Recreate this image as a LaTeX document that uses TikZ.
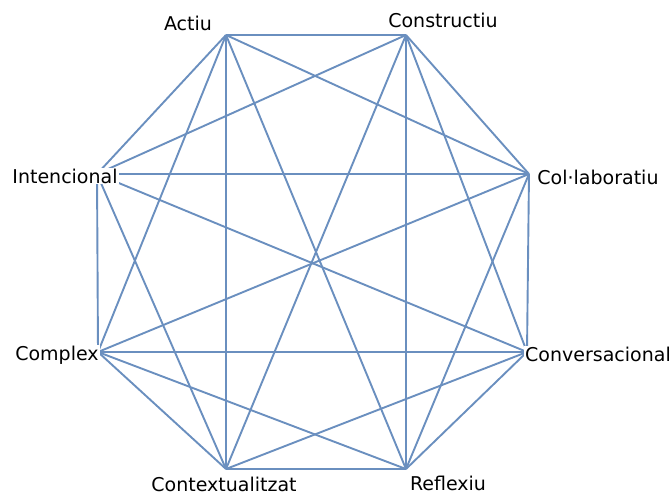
\documentclass[tikz,border=0pt]{standalone}
\usepackage{fontspec}
\setmainfont{DejaVu Sans}
\usepackage{tikz}
\usepackage{xcolor}
\definecolor{linkblue}{HTML}{6A8FBF}

\begin{document}
\begin{tikzpicture}[x=1pt, y=-1pt,
  edge/.style={draw=linkblue, line width=1.9pt},
  lbl/.style={fill=white, inner sep=1pt, font=\fontsize{19}{22}\selectfont},
]
\useasboundingbox (0,0) rectangle (670,495);
% corners of the octagon
\coordinate (actiu)   at (226,35);
\coordinate (constr)  at (406,35);
\coordinate (collab)  at (529,174);
\coordinate (conver)  at (527,352);
\coordinate (reflex)  at (406,469);
\coordinate (context) at (226,469);
\coordinate (complex) at (98,352);
\coordinate (intenc)  at (97,174);
% links (four slanted ones are left out)
\foreach \u/\v in {actiu/constr, actiu/collab, actiu/reflex, actiu/context,
    actiu/complex, actiu/intenc,
    constr/collab, constr/conver, constr/reflex, constr/context, constr/intenc,
    collab/conver, collab/reflex, collab/complex, collab/intenc,
    conver/reflex, conver/context, conver/complex, conver/intenc,
    reflex/context, reflex/complex,
    context/complex, context/intenc,
    complex/intenc}
  \draw[edge] (\u) -- (\v);
\node[lbl] (lactiu)   at (188,23)  {Actiu};
\node[lbl] (lconstr)  at (443,20)  {Constructiu};
\node[lbl] (lcollab)  at (598,177) {Col·laboratiu};
\node[lbl] (lconver)  at (598,354) {Conversacional};
\node[lbl] (lreflex)  at (448,483) {Reflexiu};
\node[lbl] (lcontext) at (224,484) {Contextualitzat};
\node[lbl] (lcomplex) at (57,355)  {Complex};
\node[lbl] (lintenc)  at (65,176)  {Intencional};
\end{tikzpicture}
\end{document}
